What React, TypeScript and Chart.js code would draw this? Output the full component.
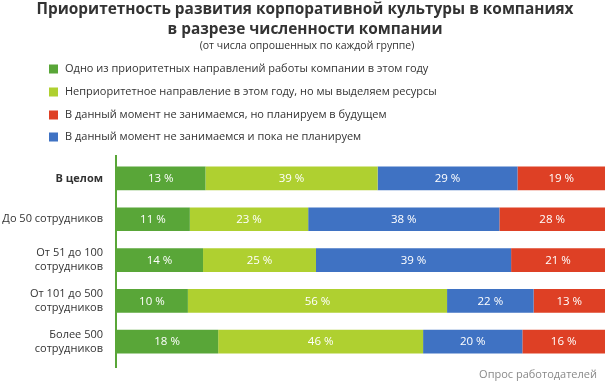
import React, { useEffect, useRef } from "react";
import { Chart, registerables } from "chart.js";

Chart.register(...registerables);

const titleLines = [
  "Приоритетность развития корпоративной культуры в компаниях",
  "в разрезе численности компании",
];
const subtitle = "(от числа опрошенных по каждой группе)";
const sourceText = "Опрос работодателей";

const categories: (string | string[])[] = [
  "В целом",
  "До 50 сотрудников",
  ["От 51 до 100", "сотрудников"],
  ["От 101 до 500", "сотрудников"],
  ["Более 500", "сотрудников"],
];

const seriesNames = [
  "Одно из приоритетных направлений работы компании в этом году",
  "Неприоритетное направление в этом году, но мы выделяем ресурсы",
  "В данный момент не занимаемся и пока не планируем",
  "В данный момент не занимаемся, но планируем в будущем",
];

// segment lengths as drawn in the picture (share of bar, %)
const greenValues = [18.3, 15.1, 17.8, 14.7, 20.9];
const lightGreenValues = [35.2, 24.2, 23.1, 53.0, 41.9];
const blueValues = [28.6, 39.1, 39.9, 17.7, 20.3];
const redValues = [17.9, 21.6, 19.2, 14.6, 16.9];

// percentages printed on the segments
const greenLabels = [13, 11, 14, 10, 18];
const lightGreenLabels = [39, 23, 25, 56, 46];
const blueLabels = [29, 38, 39, 22, 20];
const redLabels = [19, 28, 21, 13, 16];

const colors = ["#59a638", "#afd030", "#3f72c3", "#de4025"];
const legendOrder = [0, 1, 3, 2];

const FONT = "'Open Sans', 'DejaVu Sans', sans-serif";

export default function App() {
  const ref = useRef<HTMLCanvasElement | null>(null);

  useEffect(() => {
    if (!ref.current) return;
    const valueSets = [greenValues, lightGreenValues, blueValues, redValues];
    const labelSets = [greenLabels, lightGreenLabels, blueLabels, redLabels];

    const overlay = {
      id: "overlay",
      afterDraw(chart: any) {
        const ctx = chart.ctx as CanvasRenderingContext2D;
        ctx.save();
        // title
        ctx.fillStyle = "#333333";
        ctx.textAlign = "center";
        ctx.textBaseline = "middle";
        ctx.font = `bold 15.4px ${FONT}`;
        ctx.fillText(titleLines[0], 305, 10);
        ctx.fillText(titleLines[1], 305, 30);
        ctx.font = `10.5px ${FONT}`;
        ctx.fillText(subtitle, 307, 46);

        // legend
        const rows = [69, 92, 115, 137];
        ctx.textAlign = "left";
        ctx.font = `11px ${FONT}`;
        legendOrder.forEach((di, i) => {
          const y = rows[i];
          ctx.fillStyle = colors[di];
          ctx.fillRect(49, y - 4.5, 9, 9);
          ctx.fillStyle = "#333333";
          ctx.fillText(chart.data.datasets[di].label, 65, y);
        });

        // axis line
        ctx.strokeStyle = "#59a638";
        ctx.lineWidth = 2;
        ctx.beginPath();
        ctx.moveTo(116, 155);
        ctx.lineTo(116, 368);
        ctx.stroke();

        // segment labels
        ctx.fillStyle = "#ffffff";
        ctx.textAlign = "center";
        ctx.font = `11.5px ${FONT}`;
        chart.data.datasets.forEach((_ds: any, di: number) => {
          const meta = chart.getDatasetMeta(di);
          meta.data.forEach((bar: any, i: number) => {
            const cx = (bar.x + bar.base) / 2;
            ctx.fillText(`${labelSets[di][i]} %`, cx, bar.y + 0.5);
          });
        });

        // source
        ctx.fillStyle = "#8a8a8a";
        ctx.textAlign = "right";
        ctx.font = `11px ${FONT}`;
        ctx.fillText(sourceText, 597, 375);
        ctx.restore();
      },
    };

    const chart = new Chart(ref.current, {
      type: "bar",
      data: {
        labels: categories,
        datasets: valueSets.map((vals, i) => ({
          label: seriesNames[i],
          data: vals,
          backgroundColor: colors[i],
          borderWidth: 0,
          barPercentage: 0.58,
          categoryPercentage: 1,
        })),
      },
      options: {
        indexAxis: "y",
        responsive: false,
        animation: false,
        layout: { padding: { top: 158, bottom: 17, left: 0, right: 2 } },
        plugins: {
          legend: { display: false },
          title: { display: false },
          tooltip: { enabled: false },
        },
        scales: {
          x: {
            stacked: true,
            min: 0,
            max: 100,
            display: false,
          },
          y: {
            stacked: true,
            grid: { display: false, drawTicks: false },
            border: { display: false },
            afterFit: (scale: any) => {
              scale.width = 116;
            },
            ticks: {
              padding: 13,
              color: "#333333",
              font: (c: any) => ({
                family: FONT,
                size: 11,
                weight: c.index === 0 ? "bold" : "normal",
                lineHeight: 1.25,
              }),
            },
          },
        },
      },
      plugins: [overlay],
    });
    return () => chart.destroy();
  }, []);

  return (
    <div style={{ position: "absolute", left: 0, top: 0, width: 607, height: 382, background: "#fff" }}>
      <canvas ref={ref} width={607} height={382} style={{ width: 607, height: 382 }} />
    </div>
  );
}
